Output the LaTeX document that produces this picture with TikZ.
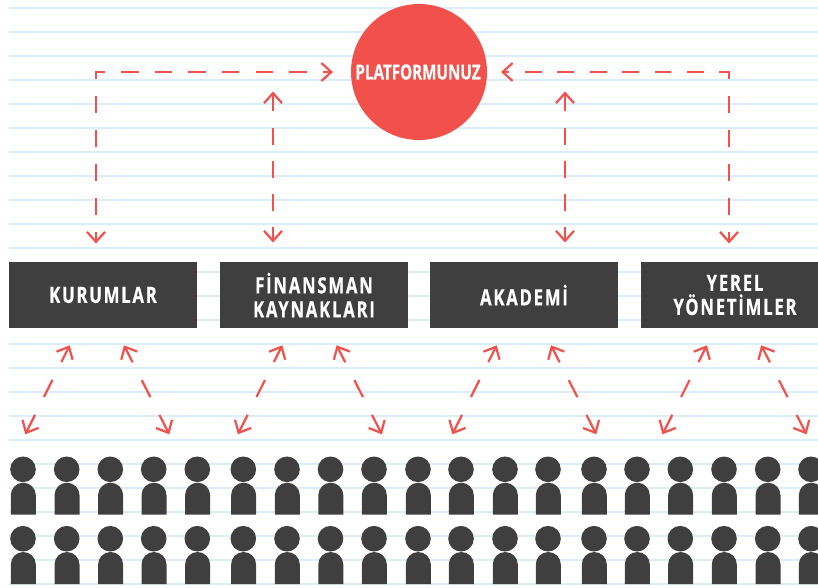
\documentclass[tikz,border=0pt]{standalone}
\usepackage{fontspec}
\usetikzlibrary{arrows.meta}
\newfontfamily\boxfont[FakeStretch=0.745,LetterSpace=8,FakeBold=0.6]{Open Sans}
\newfontfamily\circfont[FakeStretch=0.73,FakeBold=0.6]{Open Sans}
\definecolor{rulecol}{HTML}{D9EEF8}
\definecolor{darkcol}{HTML}{3F3F3F}
\definecolor{redcol}{HTML}{F2504A}
\tikzset{
  rulerline/.style={draw=rulecol,line width=1.4pt},
  orgbox/.style={rectangle,fill=darkcol,text=white,minimum width=188pt,minimum height=66pt,inner sep=0pt,align=center,font=\boxfont\bfseries\fontsize{22.4}{24}\selectfont},
  hub/.style={circle,fill=redcol,text=white,minimum size=136pt,inner sep=0pt,font=\circfont\bfseries\fontsize{20.8}{24}\selectfont},
  conn/.style={draw=redcol,line width=2.2pt},
  bothtips/.style={{Straight Barb[length=10pt,width=18pt]}-{Straight Barb[length=10pt,width=18pt]}},
  slantdash/.style={dash pattern=on 19 off 20},
  persona/.style={fill=darkcol}
}
\begin{document}
\begin{tikzpicture}[x=1pt,y=-1pt]
\useasboundingbox (0,0) rectangle (818,587);
\clip (0,0) rectangle (818,587);
\foreach \yy in {8,32,...,584} \draw[rulerline] (9,\yy) -- (818,\yy);
% people
\foreach \px in {23,66.7,110.3,153.7,197.3,243.3,287,330.5,374,418,461,505,548,594,637,680.3,724,767.7,811}{
  \foreach \hy/\bt/\bb in {469.3/482.7/514.7,538.7/552/584.2}{
    \fill[persona] (\px,\hy) circle[radius=12.8];
    \fill[persona,rounded corners=12.5pt] (\px-12.2,\bb) -- (\px-12.2,\bt) -- (\px+12.8,\bt) -- (\px+12.8,\bb);
  }
}
% nodes
\node[hub] (plat) at (419,72) {PLATFORMUNUZ\kern2pt};
\node[orgbox] (kur) at (103,295) {KURUMLAR};
\node[orgbox] (fin) at (314,295) {FİNANSMAN\\KAYNAKLARI};
\node[orgbox] (aka) at (524,295) {AKADEMİ};
\node[orgbox] (yer) at (735,295) {YEREL\\YÖNETİMLER};
% free ends
\coordinate (kt) at (96,243.5);
\coordinate (kc) at (96,72);
\coordinate (pl) at (333,72);
\coordinate (ft) at (273,91.5);
\coordinate (fb) at (273,242.5);
\coordinate (at) at (565,91.5);
\coordinate (ab) at (565,242.5);
\coordinate (yt) at (729,243.5);
\coordinate (yc) at (729,72);
\coordinate (pr) at (501,72);
% platform connectors
\draw[conn,bothtips,dash pattern=on 9 off 17 on 17 off 17 on 17 off 16.3 on 17 off 17.7 on 17 off 16.3 on 16.7 off 16 on 17.3 off 16.3 on 17.3 off 16.3 on 17.3 off 16.3 on 17.3 off 16.3 on 17.3 off 16.3 on 17.3 off 16.3] (kt) -- (kc) -- (pl);
\draw[conn,bothtips,dash pattern=on 9 off 17 on 17 off 17 on 17 off 16.3 on 17 off 17.7 on 17 off 16.3 on 17 off 15.7 on 16.7 off 15.7 on 16.7 off 15.7 on 16.7 off 15.7 on 16.7 off 15.7 on 16.7 off 15.7 on 16.7 off 15.7] (yt) -- (yc) -- (pr);
\draw[conn,bothtips,dash pattern=on 17 off 16.3] (ft) -- (fb);
\draw[conn,bothtips,dash pattern=on 17 off 16.3] (at) -- (ab);
% crowd connectors
\foreach \g/\dx in {0/0,1/212.6,2/427,3/637.2}{
  \coordinate (u\g a) at (69.7+\dx,345.3);
  \coordinate (l\g a) at (25.3+\dx,434.3);
  \coordinate (u\g b) at (124+\dx,345.3);
  \coordinate (l\g b) at (169.3+\dx,434.3);
  \draw[conn,bothtips,slantdash] (l\g a) -- (u\g a);
  \draw[conn,bothtips,slantdash] (l\g b) -- (u\g b);
}
\end{tikzpicture}
\end{document}
